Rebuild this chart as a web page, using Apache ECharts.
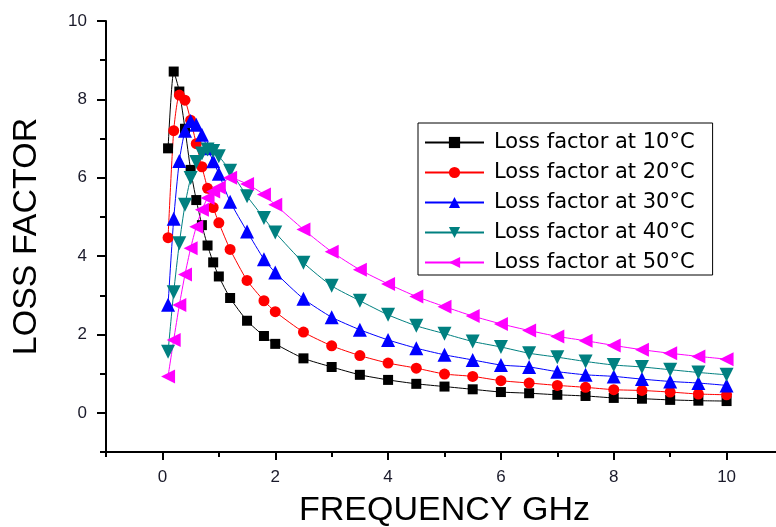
<!DOCTYPE html>
<html>
<head>
<meta charset="utf-8">
<script src="https://cdn.jsdelivr.net/npm/echarts@6/dist/echarts.min.js"></script>
<style>
  html, body { margin: 0; padding: 0; background: #fff; }
  #chart { width: 776px; height: 527px; }
</style>
</head>
<body>
<div id="chart"></div>
<script>
// frequency points (GHz)
const freq = [0.1, 0.2, 0.3, 0.4, 0.5, 0.6, 0.7, 0.8, 0.9, 1.0, 1.2, 1.5, 1.8, 2.0,
  2.5, 3.0, 3.5, 4.0, 4.5, 5.0, 5.5, 6.0, 6.5, 7.0, 7.5, 8.0, 8.5, 9.0, 9.5, 10.0];

const loss10 = [6.75, 8.71, 8.20, 7.25, 6.20, 5.43, 4.79, 4.27, 3.84, 3.48, 2.93, 2.35, 1.96, 1.76,
  1.39, 1.17, 0.97, 0.84, 0.74, 0.67, 0.60, 0.53, 0.50, 0.46, 0.43, 0.38, 0.36, 0.33, 0.31, 0.30];
const loss20 = [4.47, 7.20, 8.11, 7.98, 7.47, 6.87, 6.28, 5.73, 5.24, 4.85, 4.17, 3.38, 2.86, 2.58,
  2.06, 1.71, 1.46, 1.27, 1.14, 0.99, 0.93, 0.82, 0.76, 0.70, 0.65, 0.59, 0.57, 0.53, 0.48, 0.46];
const loss30 = [2.76, 4.95, 6.43, 7.20, 7.45, 7.35, 7.10, 6.75, 6.42, 6.10, 5.39, 4.63, 3.92, 3.58,
  2.91, 2.44, 2.12, 1.86, 1.65, 1.48, 1.35, 1.22, 1.17, 1.05, 0.97, 0.93, 0.86, 0.80, 0.76, 0.70];
const loss40 = [1.56, 3.08, 4.33, 5.31, 5.99, 6.40, 6.62, 6.72, 6.68, 6.55, 6.18, 5.53, 4.97, 4.60,
  3.83, 3.24, 2.86, 2.50, 2.22, 2.02, 1.82, 1.68, 1.52, 1.42, 1.31, 1.22, 1.17, 1.10, 1.03, 0.97];
const loss50 = [0.93, 1.86, 2.75, 3.53, 4.20, 4.75, 5.18, 5.48, 5.65, 5.75, 6.00, 5.84, 5.57, 5.31,
  4.68, 4.11, 3.65, 3.29, 2.97, 2.71, 2.47, 2.27, 2.10, 1.95, 1.84, 1.72, 1.61, 1.52, 1.44, 1.37];

const names = ['Loss factor at 10°C', 'Loss factor at 20°C', 'Loss factor at 30°C',
  'Loss factor at 40°C', 'Loss factor at 50°C'];

const xMajor = [0, 2, 4, 6, 8, 10];
const xMinor = [-1, 1, 3, 5, 7, 9];
const yMajor = [0, 2, 4, 6, 8, 10];
const yMinor = [-1, 1, 3, 5, 7, 9];

const pairs = (ys) => freq.map((f, i) => [f, ys[i]]);
const font = 'Liberation Sans, Arial, sans-serif';

const chart = echarts.init(document.getElementById('chart'));

const line = (name, ys, color, symbol, size, rotate) => ({
  name: name,
  type: 'line',
  data: pairs(ys),
  smooth: 0.2,
  symbol: symbol,
  symbolSize: size,
  symbolRotate: rotate,
  showAllSymbol: true,
  lineStyle: {color: color, width: 1},
  itemStyle: {color: color},
  emphasis: {disabled: true},
  animation: false
});

const axisBase = {
  type: 'value',
  min: -1,
  max: 11,
  splitLine: {show: false}
};

chart.setOption({
  backgroundColor: '#fff',
  textStyle: {fontFamily: font},
  grid: {left: 106, right: -7, top: 21, bottom: 75, outerBoundsMode: 'none'},
  legend: {
    orient: 'vertical',
    left: 418,
    top: 123,
    padding: [9, 18, 2, 6],
    itemGap: 9,
    itemWidth: 59,
    itemHeight: 14,
    borderColor: '#000',
    borderWidth: 1,
    textStyle: {
      fontFamily: 'DejaVu Sans, sans-serif',
      fontSize: 21,
      color: '#000',
      padding: [0, 0, 0, 5]
    },
    data: names
  },
  xAxis: [
    Object.assign({}, axisBase, {
      name: 'FREQUENCY GHz',
      nameLocation: 'middle',
      nameGap: 42,
      nameTextStyle: {fontSize: 34, color: '#000', fontFamily: font},
      axisLine: {onZero: false, lineStyle: {color: '#000', width: 2}},
      axisTick: {customValues: xMajor, length: 8, lineStyle: {color: '#000', width: 2}},
      axisLabel: {customValues: xMajor, fontSize: 17, color: '#1a1a2a', margin: 17}
    }),
    Object.assign({}, axisBase, {
      position: 'bottom',
      axisLine: {show: false, onZero: false},
      axisTick: {customValues: xMinor, length: 5, lineStyle: {color: '#000', width: 2}},
      axisLabel: {show: false}
    })
  ],
  yAxis: [
    Object.assign({}, axisBase, {
      max: 10,
      name: 'LOSS FACTOR',
      nameLocation: 'middle',
      nameRotate: 90,
      nameGap: 62,
      nameTextStyle: {fontSize: 34, color: '#000', fontFamily: font},
      axisLine: {show: true, onZero: false, lineStyle: {color: '#000', width: 2}},
      axisTick: {show: true, customValues: yMajor, length: 9, lineStyle: {color: '#000', width: 2}},
      axisLabel: {customValues: yMajor, fontSize: 17, color: '#1a1a2a', margin: 19}
    }),
    Object.assign({}, axisBase, {
      max: 10,
      position: 'left',
      axisLine: {show: false, onZero: false},
      axisTick: {show: true, customValues: yMinor, length: 6, lineStyle: {color: '#000', width: 2}},
      axisLabel: {show: false}
    })
  ],
  series: [
    line(names[0], loss10, '#000000', 'rect', 10, 0),
    line(names[1], loss20, '#ff0000', 'circle', 11, 0),
    line(names[2], loss30, '#0000ff', 'triangle', 14, 0),
    line(names[3], loss40, '#008080', 'triangle', 14, 180),
    line(names[4], loss50, '#ff00ff', 'triangle', 14, 90)
  ]
});
</script>
</body>
</html>
